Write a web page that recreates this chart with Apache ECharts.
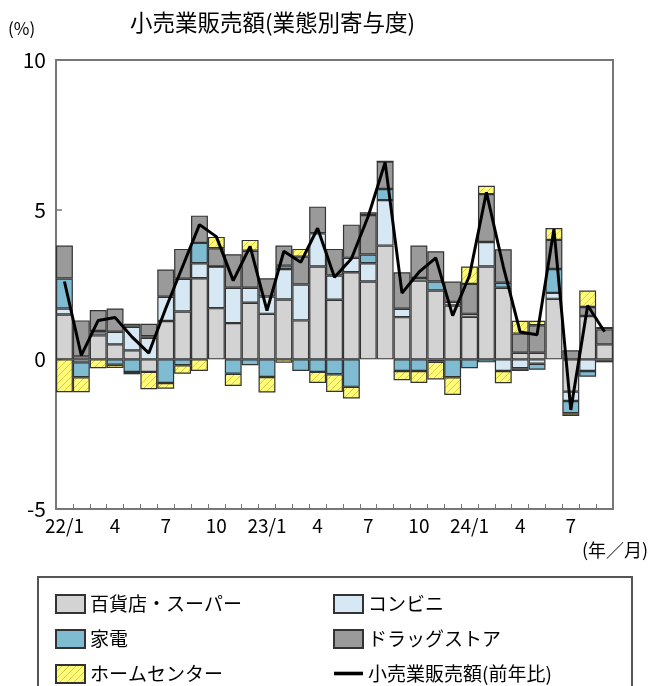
<!DOCTYPE html>
<html>
<head>
<meta charset="utf-8">
<script src="https://cdn.jsdelivr.net/npm/echarts@6/dist/echarts.min.js"></script>
<style>html,body{margin:0;padding:0;background:#fff;}#c{width:665px;height:686px;}</style>
</head>
<body>
<div id="c"></div>
<script>
var categories = ['22/1','2','3','4','5','6','7','8','9','10','11','12',
                  '23/1','2','3','4','5','6','7','8','9','10','11','12',
                  '24/1','2','3','4','5','6','7','8','9'];
var dept  = [1.5, 0.1, 0.8, 0.5, 0.3, -0.42, 1.28, 1.6, 2.71, 1.71, 1.21, 1.89,
             1.52, 2.0, 1.3, 3.1, 1.99, 2.91, 2.6, 3.8, 1.41, 2.63, 2.3, 1.8,
             1.42, 3.1, 2.39, 0.22, 0.22, 2.02, -1.08, 1.45, 0.5];
var conv  = [0.2, -0.1, 0.1, 0.42, 0.79, 0.72, 0.81, 1.09, 0.5, 1.39, 1.18, 0.5,
             0.58, 1.02, 1.2, 1.11, 0.81, 0.48, 0.61, 1.52, 0.28, 0.09, -0.08, 0.12,
             0.1, 0.82, -0.39, -0.3, -0.15, 0.2, -0.31, -0.39, -0.05];
var elec  = [1.0, -0.5, 0.05, -0.18, -0.42, 0.05, -0.79, -0.2, 0.68, 0, -0.48, -0.2,
             -0.59, 0.11, -0.39, -0.42, -0.5, -0.92, 0.29, 0.37, -0.39, -0.39, 0.3, -0.6,
             -0.3, -0.1, 0.17, -0.09, -0.2, 0.8, -0.41, -0.19, -0.05];
var drug  = [1.1, 1.2, 0.7, 0.78, 0.1, 0.42, 0.91, 1.0, 0.91, 0.61, 1.12, 1.24,
             0.61, 0.67, 0.93, 0.89, 0.89, 1.11, 1.32, 0.92, 1.22, 1.08, 1.01, 0.68,
             1.0, 1.6, 1.12, 0.64, 0.92, 0.97, 0.3, 0.3, 0.5];
var home  = [-1.1, -0.5, -0.3, -0.11, -0.08, -0.58, -0.19, -0.28, -0.39, 0.38, -0.41, 0.36,
             -0.52, -0.11, 0.26, -0.37, -0.59, -0.39, 0.09, 0, -0.31, -0.4, -0.59, -0.59,
             0.58, 0.28, -0.41, 0.43, 0.15, 0.4, -0.09, 0.55, 0.08];
var total = [2.6, 0.13, 1.3, 1.4, 0.75, 0.21, 1.7, 3.1, 4.5, 4.1, 2.63, 3.77,
             1.63, 3.61, 3.24, 4.38, 2.74, 3.36, 4.78, 6.58, 2.21, 2.91, 3.39, 1.46,
             2.8, 5.58, 3.1, 0.91, 0.82, 4.35, -1.69, 1.8, 0.92];
var seriesNames = ['百貨店・スーパー', 'コンビニ', '家電', 'ドラッグストア', 'ホームセンター', '小売業販売額(前年比)'];

var FONT = "'Noto Sans CJK JP', 'Noto Sans', sans-serif";

// hatched yellow pattern
var pc = document.createElement('canvas');
pc.width = 7; pc.height = 7;
var g = pc.getContext('2d');
g.fillStyle = '#fffa7a';
g.fillRect(0, 0, 7, 7);
g.strokeStyle = '#d9cf3c';
g.lineWidth = 1;
g.beginPath();
g.moveTo(-1, 8); g.lineTo(8, -1);
g.moveTo(-1, 1); g.lineTo(1, -1);
g.moveTo(6, 8); g.lineTo(8, 6);
g.stroke();

var chart = echarts.init(document.getElementById('c'), null, {renderer: 'canvas'});

function barSeries(name, data, color) {
  return {
    name: name, type: 'bar', stack: 'a', data: data,
    barCategoryGap: '0%', barGap: '0%',
    itemStyle: {color: color, borderColor: '#333', borderWidth: 1.2},
    emphasis: {disabled: true}
  };
}

var option = {
  animation: false,
  textStyle: {fontFamily: FONT},
  grid: {left: 56, right: 52, top: 60, bottom: 177, show: true, borderColor: '#777', borderWidth: 2, backgroundColor: 'transparent'},
  xAxis: {
    type: 'category', data: categories, boundaryGap: true,
    axisLine: {onZero: false, lineStyle: {color: '#777', width: 2}},
    axisTick: {show: true, inside: true, length: 5, interval: 0, lineStyle: {color: '#777', width: 1}},
    axisLabel: {interval: 2, color: '#000', fontSize: 19, margin: 7, fontFamily: FONT},
    splitLine: {show: false}
  },
  yAxis: {
    type: 'value', min: -5, max: 10, interval: 5,
    axisLine: {show: true, lineStyle: {color: '#777', width: 2}},
    axisTick: {show: true, inside: true, length: 6, lineStyle: {color: '#777', width: 1.5}},
    axisLabel: {color: '#000', fontSize: 21, margin: 10, fontFamily: FONT},
    splitLine: {show: false}
  },
  legend: [
    {
      orient: 'vertical', left: 55, top: 594, itemWidth: 29, itemHeight: 18, itemGap: 15,
      padding: 0, selectedMode: false, icon: 'rect',
      textStyle: {fontSize: 19, color: '#000', fontFamily: FONT},
      data: [seriesNames[0], seriesNames[2], seriesNames[4]]
    },
    {
      orient: 'vertical', left: 333, top: 594, itemWidth: 29, itemHeight: 18, itemGap: 15,
      padding: 0, selectedMode: false,
      textStyle: {fontSize: 19, color: '#000', fontFamily: FONT},
      data: [{name: seriesNames[1], icon: 'rect'}, {name: seriesNames[3], icon: 'rect'},
             {name: seriesNames[5], icon: 'path://M0,0H24V3H0Z'}]
    }
  ],
  graphic: [
    {type: 'text', left: 130, top: 11, style: {text: '小売業販売額(業態別寄与度)', font: '22.5px ' + FONT, fill: '#000'}},
    {type: 'text', left: 8, top: 20, style: {text: '(%)', font: '17px ' + FONT, fill: '#000'}},
    {type: 'text', left: 582, top: 541, style: {text: '(年／月)', font: '18px ' + FONT, fill: '#000'}},
    {type: 'rect', shape: {x: 38, y: 577, width: 594, height: 140}, style: {fill: 'none', stroke: '#555', lineWidth: 2}}
  ],
  series: [
    barSeries(seriesNames[0], dept, '#d3d3d3'),
    barSeries(seriesNames[1], conv, '#d5e8f3'),
    barSeries(seriesNames[2], elec, '#7fbbd1'),
    barSeries(seriesNames[3], drug, '#9a9a9a'),
    barSeries(seriesNames[4], home, {image: pc, repeat: 'repeat'}),
    {
      name: seriesNames[5], type: 'line', data: total, symbol: 'none', z: 10,
      lineStyle: {color: '#000', width: 3}, itemStyle: {color: '#000'},
      emphasis: {disabled: true}
    }
  ]
};
chart.setOption(option);
</script>
</body>
</html>
